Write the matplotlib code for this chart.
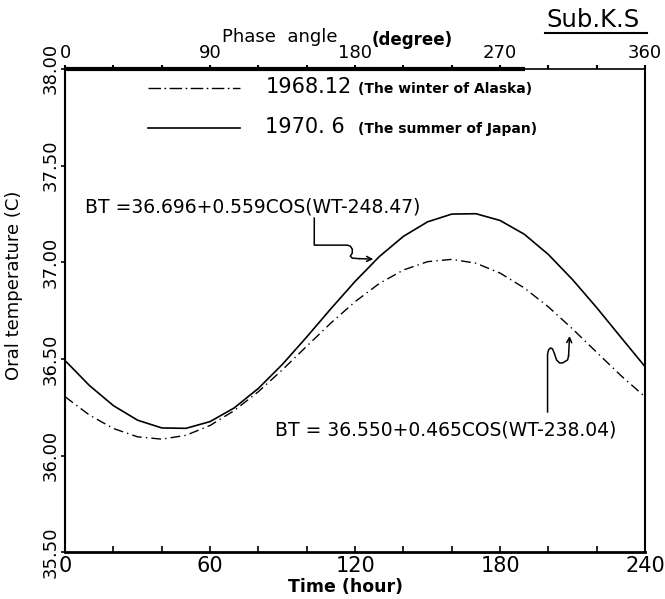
import matplotlib
matplotlib.use("Agg")
import matplotlib.pyplot as plt
from matplotlib.lines import Line2D
from matplotlib.patches import FancyArrowPatch
from matplotlib.ticker import MultipleLocator, FixedLocator
from matplotlib.transforms import Affine2D, ScaledTranslation

plt.rcParams['font.family'] = ['DejaVu Sans']

# time (hour) and oral temperature (C)
hours = [0, 10, 20, 30, 40, 50, 60, 70, 80, 90, 100, 110, 120,
         130, 140, 150, 160, 170, 180, 190, 200, 210, 220, 230, 240]
summer_japan = [36.491, 36.363, 36.258, 36.183, 36.143, 36.141, 36.176, 36.247,
                36.348, 36.473, 36.614, 36.760, 36.901, 37.029, 37.134, 37.209,
                37.249, 37.251, 37.216, 37.145, 37.040, 36.910, 36.765, 36.612,
                36.460]
winter_alaska = [36.304, 36.210, 36.140, 36.097, 36.085, 36.105, 36.156, 36.233,
                 36.331, 36.445, 36.566, 36.686, 36.796, 36.890, 36.960, 37.003,
                 37.015, 36.995, 36.944, 36.867, 36.769, 36.655, 36.534, 36.414,
                 36.304]

time_ticks = [0, 60, 120, 180, 240]
phase_ticks = [0, 90, 180, 270, 360]
temp_ticks = [35.5, 36.0, 36.5, 37.0, 37.5, 38.0]

eq_summer = "BT =36.696+0.559COS(WT-248.47)"
eq_winter = "BT = 36.550+0.465COS(WT-238.04)"

DASHDOT = (0, (7, 3, 1, 3))

fig = plt.figure(figsize=(6.65, 5.99), dpi=100)
ax = fig.add_axes([0.098, 0.078, 0.872, 0.807])

ax.plot(hours, summer_japan, color='black', lw=1.2)
ax.plot(hours, winter_alaska, color='black', lw=1.0, linestyle=DASHDOT)

ax.set_xlim(0, 240)
ax.set_ylim(35.5, 38.0)

# bottom axis: time
ax.xaxis.set_major_locator(FixedLocator(time_ticks))
ax.xaxis.set_minor_locator(MultipleLocator(20))
ax.set_xticklabels([str(t) for t in time_ticks], fontsize=15)
ax.tick_params(axis='x', which='both', direction='in', length=4, width=1.2, pad=3)

# left axis: temperature, labels written sideways
ax.set_yticks(temp_ticks)
ax.set_yticklabels(["%.2f" % t for t in temp_ticks], rotation=90, va='center', fontsize=13)
ax.tick_params(axis='y', direction='out', length=3, width=1.2, pad=1)

for side in ['left', 'right']:
    ax.spines[side].set_linewidth(1.5)
ax.spines['bottom'].set_linewidth(2)
ax.spines['top'].set_linewidth(1.2)
ax.plot([0, 0.793], [1, 1], transform=ax.transAxes, color='black', lw=3,
        clip_on=False, solid_capstyle='butt')

# top axis: phase angle
ax2 = ax.twiny()
ax2.set_xlim(0, 360)
ax2.xaxis.set_major_locator(FixedLocator(phase_ticks))
ax2.xaxis.set_minor_locator(MultipleLocator(30))
ax2.set_xticklabels([str(p) for p in phase_ticks], fontsize=13)
ax2.tick_params(axis='x', which='both', direction='out', length=3, width=1.5, pad=2)
for s in ax2.spines.values():
    s.set_visible(False)

fig.text(0.334, 0.938, "Phase  angle", fontsize=13, va='center')
fig.text(0.559, 0.933, "(degree)", fontsize=12, fontweight='bold', va='center')
fig.text(0.822, 0.966, "Sub.K.S", fontsize=17.5, va='center')
fig.add_artist(Line2D([0.82, 0.973], [0.945, 0.945], transform=fig.transFigure,
                      color='black', lw=1.5))
fig.text(0.021, 0.523, "Oral temperature (C)", fontsize=13, rotation=90,
         ha='center', va='center')
fig.text(0.519, 0.020, "Time (hour)", fontsize=12.5, fontweight='bold',
         ha='center', va='center')

# hand-drawn style legend
ax.plot([0.143, 0.302], [0.961, 0.961], transform=ax.transAxes, color='black',
        lw=1.0, linestyle=(0, (9, 2.5, 1.2, 2.5)))
ax.plot([0.143, 0.302], [0.878, 0.878], transform=ax.transAxes, color='black', lw=1.2)
ax.text(0.345, 0.950, "1968.12", transform=ax.transAxes, fontsize=15, va='baseline')
ax.text(0.505, 0.950, "(The winter of Alaska)", transform=ax.transAxes,
        fontsize=10, fontweight='bold', va='baseline')
ax.text(0.345, 0.867, "1970. 6", transform=ax.transAxes, fontsize=15, va='baseline')
ax.text(0.505, 0.867, "(The summer of Japan)", transform=ax.transAxes,
        fontsize=10, fontweight='bold', va='baseline')

# equations
ax.text(0.034, 0.714, eq_summer, transform=ax.transAxes, fontsize=13.5, va='center')
ax.text(0.362, 0.253, eq_winter, transform=ax.transAxes, fontsize=13.5, va='center')


def squiggle_arrow(i, series, offset, pts):
    # pts are pixel offsets from the arrow tip, tip sits offset from the curve point
    t = Affine2D().translate(*offset) + ScaledTranslation(hours[i], series[i], ax.transData)
    xs = [p[0] for p in pts]
    ys = [p[1] for p in pts]
    ax.add_line(Line2D(xs, ys, transform=t, color='black', lw=1.1))
    ax.add_patch(FancyArrowPatch(pts[-1], (0, 0), transform=t, arrowstyle='->',
                                 mutation_scale=9, lw=1.1, color='black',
                                 shrinkA=0, shrinkB=0))


squiggle_arrow(13, summer_japan, (-6, -2.5),
               [(-59, 41), (-59, 14), (-26, 14), (-23, 13), (-21, 10), (-21, 6),
                (-23, 3), (-21, 1), (-14, 0.5)])
squiggle_arrow(21, winter_alaska, (-3, -7),
               [(-22, -76), (-22, -18), (-21, -14), (-19, -12), (-17, -13),
                (-15, -18), (-13, -24), (-10, -27), (-7, -27), (-2, -24), (-1, -20)])

fig.savefig("out.png", dpi=100)
